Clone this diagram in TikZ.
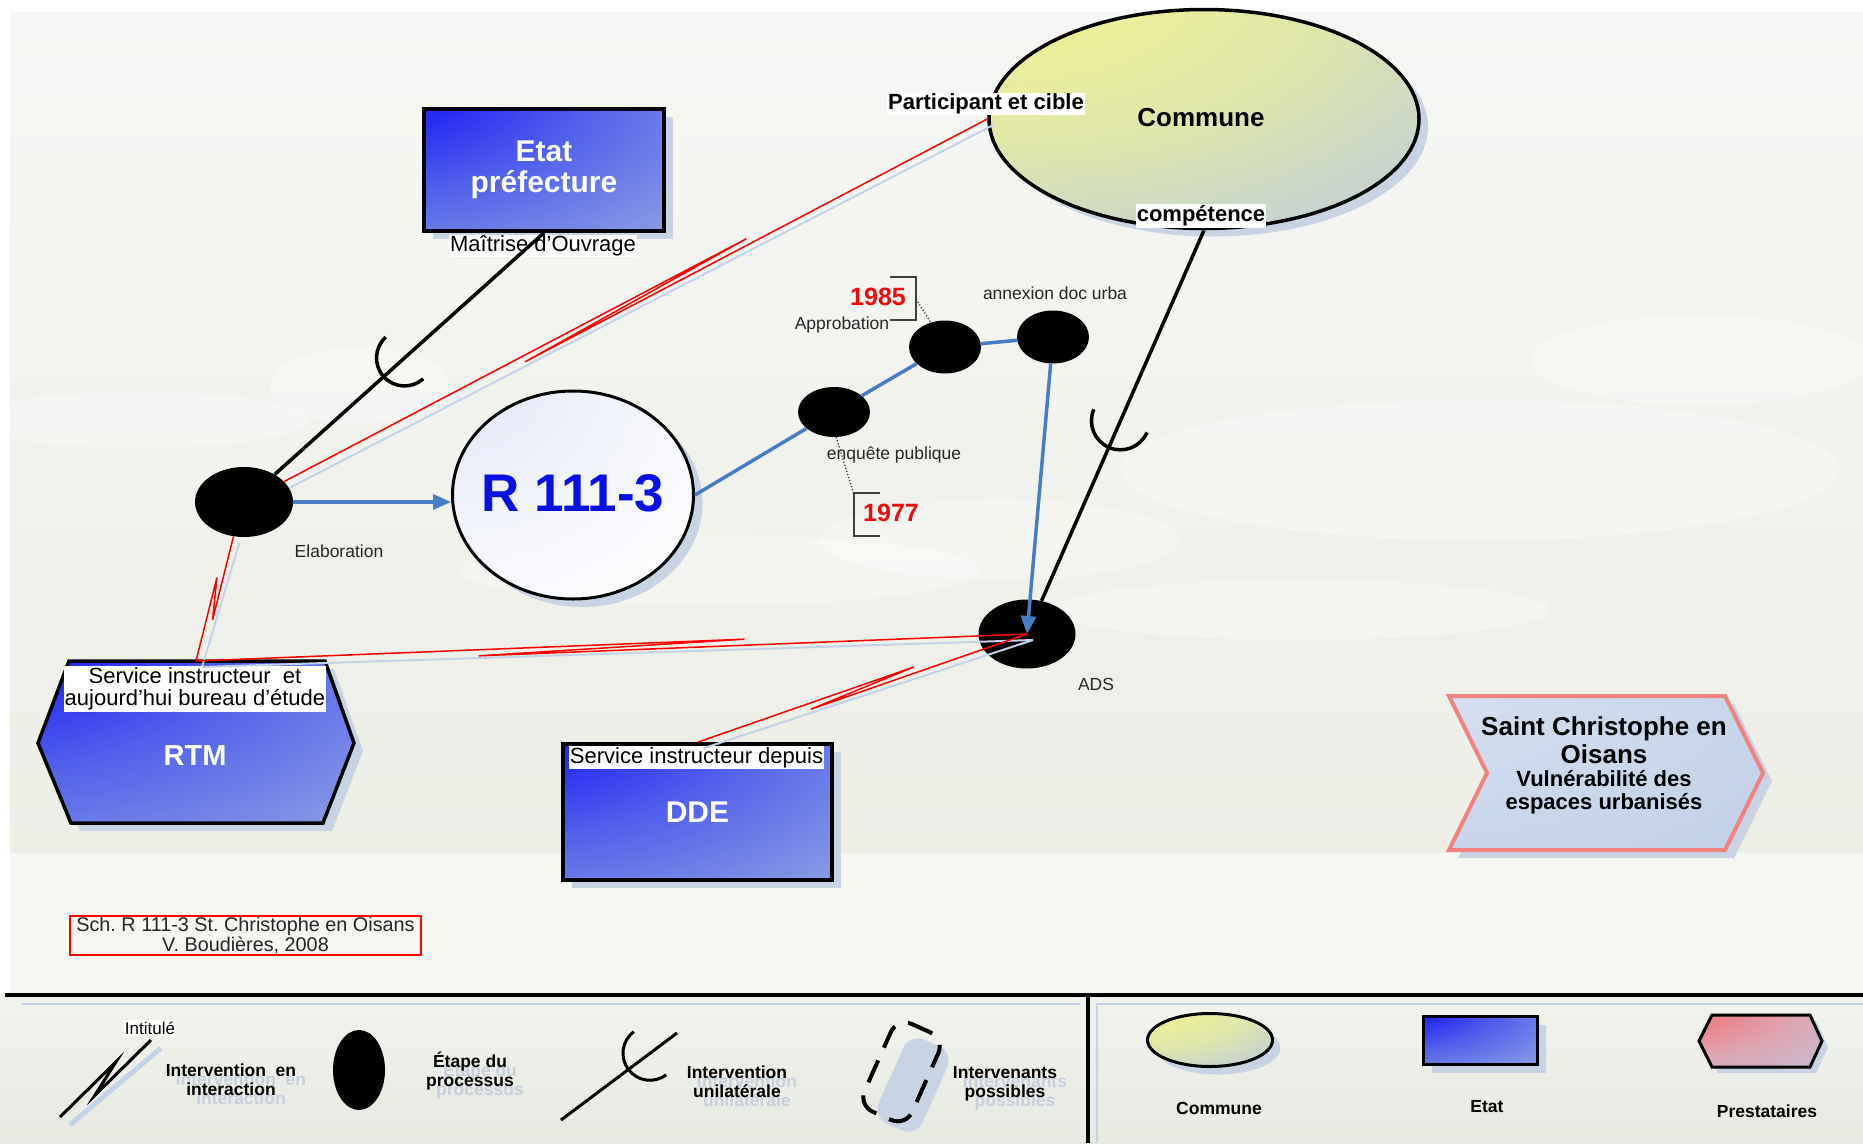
\documentclass[tikz,border=0pt]{standalone}
\usepackage{fontspec}
\setmainfont{Liberation Sans}
\usetikzlibrary{shapes.geometric,arrows.meta,calc,shadows}

\newcommand{\fsz}[2]{\fontsize{#1}{#2}\selectfont}
\frenchspacing

\definecolor{flowblue}{RGB}{70,125,196}
\definecolor{shadowc}{RGB}{200,212,228}
\definecolor{lineshadec}{RGB}{196,212,232}
\definecolor{darktext}{RGB}{38,38,38}
\definecolor{ghostc}{RGB}{198,208,222}
\definecolor{bgtop}{RGB}{247,247,245}
\definecolor{bgmid}{RGB}{237,238,230}
\definecolor{bglow}{RGB}{246,246,243}
\definecolor{legtop}{RGB}{241,243,237}
\definecolor{legbot}{RGB}{231,234,225}
\definecolor{salmon}{RGB}{240,130,130}
\definecolor{r111blue}{RGB}{8,16,228}
\definecolor{yearred}{RGB}{240,10,10}

\definecolor{etatA}{RGB}{18,18,246}
\definecolor{etatB}{RGB}{80,95,236}
\definecolor{etatC}{RGB}{140,160,228}
\definecolor{etatD}{RGB}{182,202,228}
\pgfdeclareradialshading{etatfill}{\pgfpoint{-50bp}{50bp}}{color(0bp)=(etatA); color(18bp)=(etatA); color(45bp)=(etatB); color(75bp)=(etatC); color(100bp)=(etatD); color(160bp)=(etatD)}
\definecolor{comA}{RGB}{240,242,148}
\definecolor{comB}{RGB}{222,230,172}
\definecolor{comC}{RGB}{192,206,216}
\definecolor{comD}{RGB}{178,198,232}
\pgfdeclareradialshading{comfill}{\pgfpoint{-30bp}{40bp}}{color(0bp)=(comA); color(15bp)=(comA); color(38bp)=(comB); color(62bp)=(comC); color(82bp)=(comD); color(160bp)=(comD)}
\definecolor{presA}{RGB}{238,122,126}
\definecolor{presB}{RGB}{222,165,178}
\definecolor{presC}{RGB}{198,190,212}
\pgfdeclareradialshading{presfill}{\pgfpoint{-50bp}{50bp}}{color(0bp)=(presA); color(25bp)=(presA); color(50bp)=(presB); color(75bp)=(presC); color(100bp)=(etatD); color(160bp)=(etatD)}
\definecolor{chevA}{RGB}{222,230,242}
\definecolor{chevB}{RGB}{178,198,228}
\pgfdeclareradialshading{chevfill}{\pgfpoint{-50bp}{50bp}}{color(0bp)=(chevA); color(110bp)=(chevB); color(160bp)=(chevB)}
\definecolor{rA}{RGB}{222,228,246}
\definecolor{rB}{RGB}{243,245,252}
\pgfdeclareradialshading{r111fill}{\pgfpoint{-30bp}{35bp}}{color(0bp)=(rA); color(35bp)=(rB); color(60bp)=(white); color(160bp)=(white)}

\tikzset{every picture/.append style={x=1pt,y=-1pt}}
\tikzset{stepdot/.style={ellipse,fill=black,inner sep=0pt}}
\tikzset{nodeshadow/.style={drop shadow={shadow xshift=9pt,shadow yshift=-8pt,fill=shadowc,opacity=1}}}
\tikzset{etatbox/.style={rectangle,draw=black,line width=3.5pt,shade,shading=etatfill,text=white,align=center,nodeshadow}}
\tikzset{tag/.style={fill=white,inner sep=1.2pt,text=black}}
\tikzset{note/.style={font=\fsz{17.5}{19},text=darktext}}
\tikzset{year/.style={font=\bfseries\fsz{25}{27},text=yearred}}
\tikzset{link/.style={line width=3.5pt,black}}
\tikzset{flow/.style={line width=3.5pt,flowblue}}
\tikzset{interact/.style={line width=1.5pt,red}}
\tikzset{lineshade/.style={line width=2pt,lineshadec}}
\tikzset{nzig/.style={to path={-- ($(\tikztostart)!0.66!(\tikztotarget)!#1!90:(\tikztotarget)$) -- ($(\tikztostart)!0.34!(\tikztotarget)!#1!270:(\tikztotarget)$) -- (\tikztotarget)}}}
\tikzset{nzig/.default=4pt}
\tikzset{yearbracket/.style={line width=1.6pt,black!75}}
\tikzset{dotline/.style={dotted,line width=1.2pt,darktext}}
\tikzset{legtext/.style={font=\bfseries\fsz{17.5}{19.3},align=center,text=black}}
\tikzset{ghost/.style={font=\bfseries\fsz{17.5}{19.3},align=center,text=ghostc}}

\begin{document}
\begin{tikzpicture}
\useasboundingbox (0,0) rectangle (1863,1143);
\fill[white] (0,0) rectangle (1863,1143);
\shade[top color=bgtop, bottom color=bgmid] (10,12) rectangle (1863,853);
\fill[bglow] (10,853) rectangle (1863,993);
\shade[top color=legtop, bottom color=legbot] (0,995) rectangle (1863,1143);

% clouds
\fill[white, opacity=0.3] (140,420) ellipse [x radius=170pt, y radius=28pt];
\fill[white, opacity=0.3] (360,385) ellipse [x radius=90pt, y radius=38pt];
\fill[white, opacity=0.3] (720,570) ellipse [x radius=260pt, y radius=35pt];
\fill[white, opacity=0.3] (1000,540) ellipse [x radius=180pt, y radius=40pt];
\fill[white, opacity=0.3] (1480,470) ellipse [x radius=360pt, y radius=70pt];
\fill[white, opacity=0.3] (1700,360) ellipse [x radius=170pt, y radius=45pt];
\fill[white, opacity=0.3] (1300,610) ellipse [x radius=250pt, y radius=30pt];

\node (etat) at (544,170)[etatbox, minimum width=240pt, minimum height=122pt, font=\bfseries\fsz{30}{31}]{Etat\\préfecture};
\node (commune) at (1204,119)[ellipse, draw, line width=3.5pt, shade, shading=comfill, minimum width=430pt, minimum height=219pt, nodeshadow]{};
\node (communetxt) at (1201,118)[font=\bfseries\fsz{26}{28}]{Commune};
\node (r111) at (573,495)[ellipse, draw, line width=3pt, shade, shading=r111fill, minimum width=241pt, minimum height=208pt, nodeshadow]{};
\node (r111txt) at (573,493)[text=r111blue, font=\bfseries\fsz{53}{55}]{R 111-3};
\node (dde) at (697.5,812)[etatbox, minimum width=269pt, minimum height=136pt, font=\bfseries\fsz{30}{32}]{DDE};

\path[draw=black, line width=3.5pt, shade, shading=etatfill, nodeshadow] (69,661) -- (325,661) -- (354,743) -- (323,823) -- (71,823) -- (38,743) -- cycle;
\coordinate (rtmtop) at (196,661);
\node (rtm) at (195,756)[text=white, font=\bfseries\fsz{29}{31}]{RTM};

\path[draw=salmon, line width=4pt, shade, shading=chevfill, nodeshadow] (1449,696) -- (1725,696) -- (1763,773) -- (1725,850) -- (1449,850) -- (1487,773) -- cycle;
\node (sctitle) at (1604,740)[align=center, font=\bfseries\fsz{26}{27.6}]{Saint Christophe en\\Oisans};
\node (scsub) at (1604,792)[align=center, font=\bfseries\fsz{22}{23.4}]{Vulnérabilité des\\espaces urbanisés};

\node (elab) at (244,502)[stepdot, minimum width=98pt, minimum height=70pt]{};
\node (enq) at (834,412)[stepdot, minimum width=72pt, minimum height=50pt]{};
\node (appro) at (945,347)[stepdot, minimum width=72pt, minimum height=53pt]{};
\node (annex) at (1053,337)[stepdot, minimum width=72pt, minimum height=53pt]{};
\node (ads) at (1027,634)[stepdot, minimum width=97pt, minimum height=69pt]{};

\node (maitrise) at (543,246)[tag, font=\fsz{22}{24}]{Maîtrise d’Ouvrage};
\node (participant) at (986,104)[tag, font=\bfseries\fsz{22}{24}]{Participant et cible};
\node (competence) at (1201,216)[tag, font=\bfseries\fsz{22}{24}]{compétence};
\node (rtmtag) at (195,689)[tag, align=center, font=\fsz{22}{22.3}]{Service instructeur\ \ et\\aujourd’hui bureau d’étude};
\node (ddetag) at (696.5,757.5)[tag, font=\fsz{22}{24}]{Service instructeur depuis};

\node (elabtxt) at (339,551)[note]{Elaboration};
\node (enqtxt) at (894,455)[note]{enquête publique};
\node (approtxt) at (842,325)[note]{Approbation};
\node (annextxt) at (1055,293)[note]{annexion doc urba};
\node (adstxt) at (1096,684)[note]{ADS};
\node (y85) at (878,297)[year]{1985};
\node (y77) at (891,513)[year]{1977};
\draw[yearbracket] (890,277) -- (916,277) -- (916,320) -- (890,320);
\draw[yearbracket] (880,493) -- (854,493) -- (854,536) -- (880,536);
\coordinate (b85) at (916,299);
\coordinate (b77) at (854,495);
\draw[dotline] (b85) -- (appro.120);
\draw[dotline] (enq.275) -- (b77);

\node (credit) at (245.5,935.5)[draw=red, line width=1.5pt, minimum width=351pt, minimum height=39pt, inner sep=0pt, align=center, text=darktext, font=\fsz{19.8}{18.6}]{Sch. R 111-3 St. Christophe en Oisans\\V. Boudières, 2008};

%unilateral links
\draw[link] (etat.south) -- (elab);
\draw[link] (commune.south) -- (ads);
\coordinate (u1) at ($(etat.south)!0.465!(elab)$);
\coordinate (u2) at ($(commune.south)!0.472!(ads)$);
\draw[link] ([shift={(131.9:28pt)}]u1) arc[start angle=131.9, end angle=311.9, radius=28pt];
\draw[link] ([shift={(156.6:29pt)}]u2) arc[start angle=156.6, end angle=336.6, radius=29pt];

%process steps
\draw[flow, -{Triangle[length=18pt,width=15pt]}] (elab) -- (elab -| r111.west);
\draw[flow] (r111.east) -- (enq);
\draw[flow] (enq) -- (appro) -- (annex);
\draw[flow, -{Triangle[length=18pt,width=15pt]}] (annex) -- (ads.center);

%interactions
\draw[lineshade] ($(elab.27)+(6,6)$) -- ($(commune.west)+(6,6)$);
\draw[lineshade] ($(elab.253)+(6,6)$) -- ($(rtmtop)+(6,6)$);
\draw[lineshade] ($(rtmtop)+(6,6)$) -- ($(ads.center)+(6,6)$);
\draw[lineshade] ($(dde.north)+(6,6)$) -- ($(ads.center)+(6,6)$);
\draw[interact] (elab.27) to[nzig] (commune.west);
\draw[interact] (rtmtop) to[nzig] (elab.253);
\draw[interact] (rtmtop) to[nzig] (ads.center);
\draw[interact] (dde.north) to[nzig] (ads.center);

%now draw the legend
\draw[line width=3.5pt] (5,995) -- (1863,995);
\draw[line width=3.5pt] (1088,995) -- (1088,1143);
\draw[lineshadec, line width=2pt] (22,1004) -- (1080,1004);
\draw[lineshadec, line width=2pt] (1097,1143) -- (1097,1004) -- (1863,1004);

\coordinate (li1) at (60,1117);
\coordinate (li2) at (151,1040);
\draw[lineshade, line width=5pt] ($(li1)+(10,8)$) -- ($(li2)+(10,8)$);
\draw[link, line width=3pt] (li1) to[nzig=6pt] (li2);
\node (intitule) at (150,1028)[tag, font=\fsz{17}{18}]{Intitulé};
\node (g1) at (241,1089)[ghost]{Intervention\ \ en\\interaction};
\node (l1) at (231,1080)[legtext]{Intervention\ \ en\\interaction};

\node (legdot) at (359,1070)[stepdot, minimum width=52pt, minimum height=80pt]{};
\node (g2) at (480,1080)[ghost]{Étape du\\processus};
\node (l2) at (470,1071)[legtext]{Étape du\\processus};

\coordinate (lu1) at (561,1120);
\coordinate (lu2) at (677,1033);
\coordinate (lu) at ($(lu1)!0.767!(lu2)$);
\draw[link, line width=3pt] (lu1) -- (lu2);
\draw[link, line width=3pt] ([shift={(126.9:27pt)}]lu) arc[start angle=126.9, end angle=306.9, radius=27pt];
\node (g3) at (747,1091)[ghost]{Intervention\\unilatérale};
\node (l3) at (737,1082)[legtext]{Intervention\\unilatérale};

\node (possshade) at (913,1085)[fill=shadowc, rotate=-24, rounded corners=16pt, minimum width=48pt, minimum height=92pt]{};
\node (poss) at (901.5,1072)[draw, rotate=-24, rounded corners=16pt, minimum width=52pt, minimum height=96pt, line width=4pt, dash pattern=on 24pt off 14pt]{};
\node (g4) at (1015,1093)[ghost]{Intervenants\\possibles};
\node (l4) at (1005,1084)[legtext]{Intervenants\\possibles};

\node (legcommune) at (1210,1040)[ellipse, draw, line width=3pt, shade, shading=comfill, minimum width=125pt, minimum height=53pt, drop shadow={shadow xshift=8pt,shadow yshift=-8pt,fill=shadowc,opacity=1}]{};
\node (legetat) at (1480.5,1040.5)[rectangle, draw, line width=3pt, shade, shading=etatfill, minimum width=114pt, minimum height=48pt, drop shadow={shadow xshift=8pt,shadow yshift=-8pt,fill=shadowc,opacity=1}]{};
\path[draw=black, line width=3pt, shade, shading=presfill, drop shadow={shadow xshift=6pt,shadow yshift=-6pt,fill=shadowc,opacity=1}] (1712,1015) -- (1810,1015) -- (1822,1041) -- (1810,1067) -- (1712,1067) -- (1699,1041) -- cycle;
\node (l5) at (1219,1108)[legtext]{Commune};
\node (l6) at (1487,1107)[legtext]{Etat};
\node (l7) at (1767,1111)[legtext]{Prestataires};
\end{tikzpicture}
\end{document}
